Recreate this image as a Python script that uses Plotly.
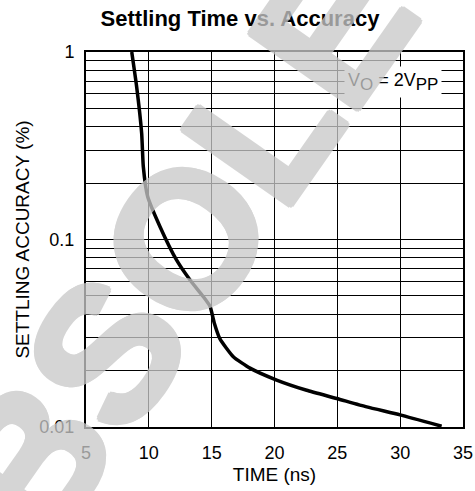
import plotly.graph_objects as go

# Data
time_ns = [8.64, 9.03, 9.43, 9.56, 9.9, 10.89, 12.2, 13.28, 14.34, 14.87, 15.2, 15.66, 16.72, 18.05, 20.17, 22.56, 24.95, 27.34, 29.99, 33.3]
accuracy = [1.0, 0.653, 0.368, 0.245, 0.17, 0.117, 0.0778, 0.0608, 0.0495, 0.044, 0.036, 0.0295, 0.0237, 0.0206, 0.0178, 0.0157, 0.0142, 0.0128, 0.0116, 0.0101]

y_ticks = [0.01, 0.1, 1]
y_ticktext = ["0.01", "0.1", "1"]
x_ticks = [5, 10, 15, 20, 25, 30, 35]
minor_y = [m * d for d in (0.01, 0.1) for m in range(2, 10)]

fig = go.Figure()
fig.add_trace(go.Scatter(x=time_ns, y=accuracy, mode="lines",
                         line=dict(color="black", width=3.5, shape="spline", smoothing=0.5),
                         showlegend=False, hoverinfo="skip"))

font = "Liberation Sans, Arial, sans-serif"
fig.update_layout(
    width=475, height=491,
    margin=dict(l=86, r=12, t=52, b=64),
    paper_bgcolor="white", plot_bgcolor="white",
    title=dict(text="<b>Settling Time vs. Accuracy</b>", x=240 / 475, xanchor="center",
               y=1 - 18 / 491, yanchor="middle", font=dict(family=font, size=22, color="black")),
    font=dict(family=font, color="black"),
    xaxis=dict(range=[5, 35], tickvals=x_ticks, ticks="", showgrid=True, gridcolor="black",
               gridwidth=1, showline=True, linecolor="black", linewidth=2, mirror=True,
               zeroline=False, tickfont=dict(size=18), ticklabelstandoff=8, automargin=False,
               title=dict(text="TIME (ns)", font=dict(size=19), standoff=6)),
    yaxis=dict(type="log", range=[-2, 0], tickvals=y_ticks, ticktext=y_ticktext, ticks="",
               showgrid=True, gridcolor="black", gridwidth=1, showline=True, linecolor="black",
               linewidth=2, mirror=True, zeroline=False, tickfont=dict(size=18), ticklabelstandoff=6,
               automargin=False,
               minor=dict(tickvals=minor_y, showgrid=True, gridcolor="black", gridwidth=1, ticks=""),
               title=dict(text="SETTLING ACCURACY (%)", font=dict(size=19), standoff=5)),
)

sub = '<sub><span style="font-size:17px">{}</span></sub>'
fig.add_annotation(xref="paper", yref="paper", x=(393 - 86) / 377, y=(427 - 82) / 375,
                   xanchor="center", yanchor="middle",
                   text="V" + sub.format("O") + " = 2V" + sub.format("PP"), showarrow=False,
                   bgcolor="white", font=dict(size=18, family=font, color="black"), borderpad=3)

# Watermark
wm_color = "rgb(201,201,201)"
r = 3
shadow = ", ".join(f"{dx}px {dy}px 0 {wm_color}" for dx, dy in
                   [(r, 0), (-r, 0), (0, r), (0, -r), (2, 2), (-2, 2), (2, -2), (-2, -2)])
fig.add_annotation(xref="paper", yref="paper", x=(207 - 86) / 377, y=(427 - 208) / 375,
                   xanchor="center", yanchor="middle",
                   text="<b>OBSOLETE</b>", showarrow=False, textangle=-55,
                   font=dict(size=192, family=font, color=wm_color, shadow=shadow), opacity=0.76)

fig.write_html("out.html")
